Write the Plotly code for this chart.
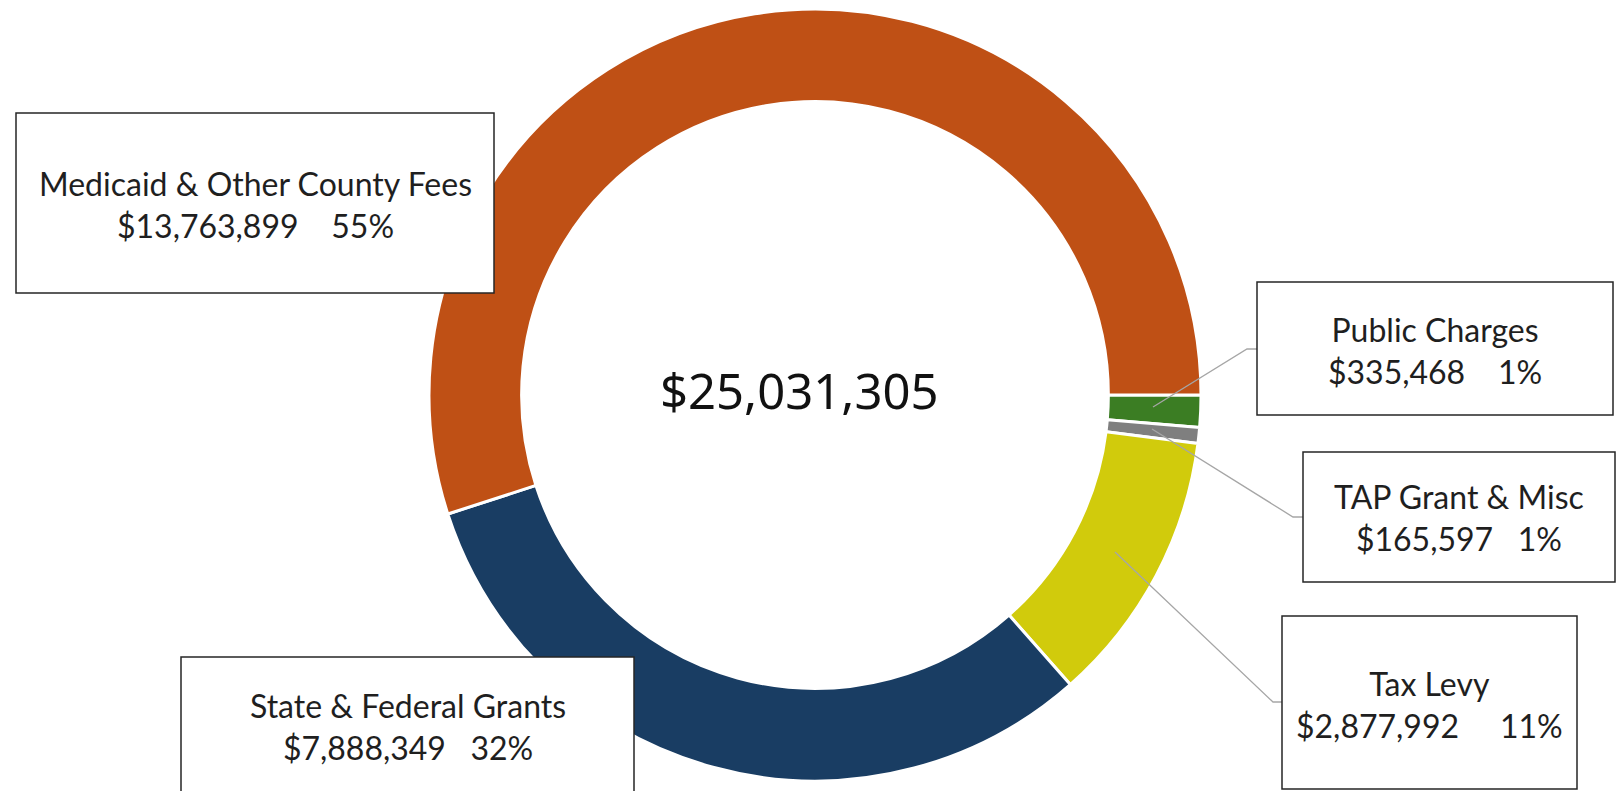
import plotly.graph_objects as go

# Revenue sources, listed clockwise starting at 3 o'clock
sources = ["Public Charges", "TAP Grant & Misc", "Tax Levy",
           "State & Federal Grants", "Medicaid & Other County Fees"]
amounts = [335468, 165597, 2877992, 7888349, 13763899]
pct_labels = ["1%", "1%", "11%", "32%", "55%"]
colors = ["#3B7D23", "#7F7F7F", "#D1CB0C", "#193D63", "#BF5015"]

W, H = 1620, 791
total = sum(amounts)


def px(x):
    return x / W


def py(y):
    return 1 - y / H


# donut centre and outer radius in pixels
cx, cy, r = 815, 395, 386

fig = go.Figure(go.Pie(
    labels=sources,
    values=amounts,
    sort=False,
    direction="clockwise",
    rotation=90,
    hole=0.76,
    marker=dict(colors=colors, line=dict(color="white", width=3)),
    textinfo="none",
    hoverinfo="label+value+percent",
    showlegend=False,
    domain=dict(x=[px(cx - r), px(cx + r)], y=[py(cy + r), py(cy - r)]),
))

# label boxes: (left, top, right, bottom, text centre y, gap) in pixels
boxes = {
    "Medicaid & Other County Fees": (16, 113, 494, 293, 204, "\u00a0\u00a0\u00a0\u00a0"),
    "Public Charges": (1257, 282, 1613, 415, 350, "\u00a0\u00a0\u00a0\u00a0"),
    "TAP Grant & Misc": (1303, 452, 1615, 582, 517, "\u00a0\u00a0\u00a0"),
    "Tax Levy": (1282, 616, 1577, 789, 704, "\u00a0\u00a0\u00a0\u00a0\u00a0"),
    "State & Federal Grants": (181, 657, 634, 800, 726, "\u00a0\u00a0\u00a0"),
}

# leader lines from slice to box
leaders = {
    "Public Charges": [(1153, 407), (1247, 349), (1257, 349)],
    "TAP Grant & Misc": [(1152, 429), (1293, 517), (1303, 517)],
    "Tax Levy": [(1115, 552), (1273, 702), (1282, 702)],
}

shapes = []
annotations = []
for name, pts in leaders.items():
    path = "M " + " L ".join(f"{px(x):.5f},{py(y):.5f}" for x, y in pts)
    shapes.append(dict(type="path", path=path, xref="paper", yref="paper",
                       line=dict(color="#A6A6A6", width=1.3), layer="above"))

for name, amt, pct in zip(sources, amounts, pct_labels):
    x0, y0, x1, y1, ty, gap = boxes[name]
    shapes.append(dict(type="rect", xref="paper", yref="paper",
                       x0=px(x0), x1=px(x1), y0=py(y1), y1=py(y0),
                       fillcolor="white", line=dict(color="#262626", width=1.5),
                       layer="above"))
    annotations.append(dict(
        x=px((x0 + x1) / 2), y=py(ty), xref="paper", yref="paper",
        xanchor="center", yanchor="middle", showarrow=False,
        text=f"{name}<br>${amt:,}{gap}{pct}",
        font=dict(family="Lato", size=32, color="#1F1F1F"),
    ))

annotations.append(dict(
    x=px(799), y=py(390), xref="paper", yref="paper",
    xanchor="center", yanchor="middle", showarrow=False,
    text=f"${total:,}",
    font=dict(family="Noto Sans", size=49, color="#111111"),
))

fig.update_layout(
    width=W, height=H,
    margin=dict(l=0, r=0, t=0, b=0),
    paper_bgcolor="white", plot_bgcolor="white",
    shapes=shapes, annotations=annotations,
)

fig.write_html("out.html")
